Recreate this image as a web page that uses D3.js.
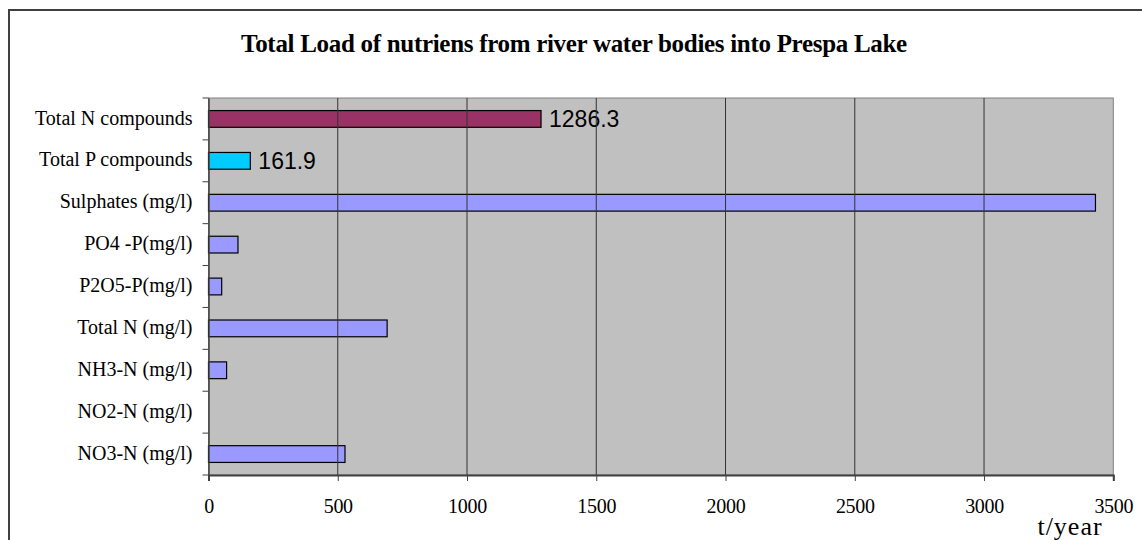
<!DOCTYPE html>
<html><head><meta charset="utf-8">
<script src="https://cdn.jsdelivr.net/npm/d3@7"></script>
<style>body{margin:0;background:#fff}svg{display:block}</style>
</head><body>
<script>
const categories = ["Total N compounds","Total P compounds","Sulphates (mg/l)","PO4 -P(mg/l)","P2O5-P(mg/l)","Total N (mg/l)","NH3-N (mg/l)","NO2-N (mg/l)","NO3-N (mg/l)"];
const values = [1286.3,161.9,3431,114,51,691,70,0,528];
const barColors = ["#993366","#00CCFF","#9999FF","#9999FF","#9999FF","#9999FF","#9999FF","#9999FF","#9999FF"];
const dataLabels = ["1286.3","161.9",null,null,null,null,null,null,null];
const xTicks = [0,500,1000,1500,2000,2500,3000,3500];
const title = "Total Load of nutriens from river water bodies into Prespa Lake";
const xTitle = "t/year";

const W=1142,H=540;
const svg=d3.select("body").append("svg").attr("width",W).attr("height",H);
svg.append("rect").attr("x",9).attr("y",10).attr("width",W+10).attr("height",H+10)
  .attr("fill","#fff").attr("stroke","#404040").attr("stroke-width",2);

const L=208.5,R=1113.3,T=98,B=475;
const x=d3.scaleLinear().domain([0,3500]).range([L,R]);
const y=d3.scaleBand().domain(categories).range([T,B]).paddingInner(0.6).paddingOuter(0.3);
const yb=d3.scaleBand().domain(categories).range([T,B]);

svg.append("rect").attr("x",L).attr("y",T).attr("width",R-L).attr("height",B-T)
  .attr("fill","#C0C0C0").attr("stroke","#808080").attr("stroke-width",1);

svg.append("g").selectAll("rect").data(categories).join("rect")
  .attr("x",x(0)).attr("y",d=>y(d)).attr("height",y.bandwidth())
  .attr("width",(d,i)=>x(values[i])-x(0))
  .attr("fill",(d,i)=>barColors[i]).attr("stroke","#000").attr("stroke-width",1.2)
  .attr("display",(d,i)=>values[i]>0?null:"none");

svg.append("g").selectAll("text").data(categories).join("text")
  .filter((d,i)=>dataLabels[i])
  .attr("x",(d)=>x(values[categories.indexOf(d)])+8)
  .attr("y",d=>y(d)+y.bandwidth()/2).attr("dy","0.36em")
  .attr("font-family","Liberation Sans, Arial, sans-serif").attr("font-size",23)
  .text(d=>dataLabels[categories.indexOf(d)]);

// gridlines (drawn over labels as in the original)
svg.append("g").selectAll("line").data(xTicks.slice(1,-1)).join("line")
  .attr("x1",d=>x(d)).attr("x2",d=>x(d)).attr("y1",T).attr("y2",B)
  .attr("stroke","#333").attr("stroke-width",1);

// x axis
const xa=svg.append("g").attr("transform",`translate(0,${B})`)
  .call(d3.axisBottom(x).tickValues(xTicks).tickSize(6).tickPadding(18).tickFormat(d3.format("d")));
xa.select(".domain").attr("stroke","#404040").attr("stroke-width",2);
xa.selectAll(".tick line").attr("stroke","#404040");
xa.selectAll("text").attr("font-family","Liberation Serif, serif").attr("font-size",20).attr("fill","#000").attr("letter-spacing","-0.3");

// y axis
const ya=svg.append("g").attr("transform",`translate(${L},0)`)
  .call(d3.axisLeft(yb).tickSize(0).tickPadding(16));
ya.select(".domain").attr("stroke","#404040").attr("stroke-width",1.5);
ya.selectAll("text").attr("font-family","Liberation Serif, serif").attr("font-size",20).attr("fill","#000").attr("dy","0.28em");
svg.append("g").selectAll("line").data(d3.range(categories.length+1)).join("line")
  .attr("x1",L-6).attr("x2",L).attr("y1",i=>T+i*yb.step()).attr("y2",i=>T+i*yb.step())
  .attr("stroke","#404040");

svg.append("text").attr("x",574).attr("y",52).attr("text-anchor","middle")
  .attr("font-family","Liberation Serif, serif").attr("font-weight","bold").attr("font-size",25).attr("letter-spacing","-0.3")
  .text(title);
svg.append("text").attr("x",1070).attr("y",535).attr("text-anchor","middle")
  .attr("font-family","Liberation Serif, serif").attr("font-size",26).attr("letter-spacing","1")
  .text(xTitle);
</script>
</body></html>
